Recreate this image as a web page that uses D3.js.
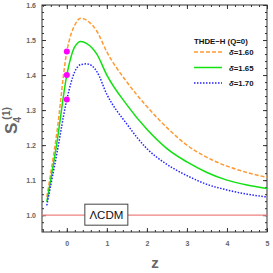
<!DOCTYPE html>
<html lang="en">
<head>
<meta charset="UTF-8">
<title>S4 statefinder</title>
<script src="https://cdn.jsdelivr.net/npm/d3@7"></script>
<style>
  body { margin: 0; padding: 0; background: #fff; }
  svg { display: block; font-family: "Liberation Sans", Arial, sans-serif; }
  .tick text { fill: #666; font-size: 7px; font-weight: bold; }
  .frame line, .frame path { stroke: #333; }
</style>
</head>
<body>
<div id="chart"></div>
<script>
// data
var zs = [-0.5, -0.25, 0, 0.2, 0.35, 0.5, 0.75, 1, 1.5, 2, 2.5, 3, 3.5, 4, 4.5, 5];
var s160 = [1.052, 1.235, 1.467, 1.543, 1.562, 1.556, 1.525, 1.466, 1.38, 1.31, 1.25, 1.20, 1.165, 1.14, 1.122, 1.108];
var s165 = [1.038, 1.205, 1.40, 1.481, 1.496, 1.490, 1.460, 1.400, 1.315, 1.245, 1.19, 1.152, 1.122, 1.10, 1.086, 1.076];
var s170 = [1.028, 1.175, 1.33, 1.410, 1.430, 1.432, 1.410, 1.345, 1.26, 1.19, 1.145, 1.113, 1.088, 1.072, 1.06, 1.052];
var deltas = ['1.60', '1.65', '1.70'];
var xTicks = [0, 1, 2, 3, 4, 5];
var yTicks = [1.0, 1.1, 1.2, 1.3, 1.4, 1.5, 1.6];
var lcdm = 1.0;

var width = 273, height = 273;
var mLeft = 42, mRight = 267, mTop = 5, mBottom = 232;

var svg = d3.select('#chart').append('svg')
  .attr('width', width).attr('height', height);

var x = d3.scaleLinear().domain([-0.62, 5.0]).range([mLeft, mRight]);
var y = d3.scaleLinear().domain([0.952, 1.6]).range([mBottom, mTop]);

// frame ticks, pointing inward
function minor(a, b, step) {
  var out = [];
  for (var v = a; v <= b + 1e-9; v += step) out.push(+v.toFixed(3));
  return out;
}
var g = svg.append('g').attr('class', 'frame');

g.append('g').attr('transform', 'translate(0,' + mBottom + ')')
  .call(d3.axisBottom(x).tickValues(minor(-0.6, 5, 0.2)).tickSize(-2).tickFormat(''));
g.append('g').attr('transform', 'translate(0,' + mBottom + ')')
  .call(d3.axisBottom(x).tickValues(xTicks).tickSize(-4).tickPadding(9).tickFormat(d3.format('d')));
g.append('g').attr('transform', 'translate(0,' + mTop + ')')
  .call(d3.axisTop(x).tickValues(minor(-0.6, 5, 0.2)).tickSize(-2).tickFormat(''));
g.append('g').attr('transform', 'translate(0,' + mTop + ')')
  .call(d3.axisTop(x).tickValues(xTicks).tickSize(-4).tickFormat(''));

g.append('g').attr('transform', 'translate(' + mLeft + ',0)')
  .call(d3.axisLeft(y).tickValues(minor(0.96, 1.6, 0.02)).tickSize(-2).tickFormat(''));
g.append('g').attr('transform', 'translate(' + mLeft + ',0)')
  .call(d3.axisLeft(y).tickValues(yTicks).tickSize(-4).tickPadding(6).tickFormat(d3.format('.1f')));
g.append('g').attr('transform', 'translate(' + mRight + ',0)')
  .call(d3.axisRight(y).tickValues(minor(0.96, 1.6, 0.02)).tickSize(-2).tickFormat(''));
g.append('g').attr('transform', 'translate(' + mRight + ',0)')
  .call(d3.axisRight(y).tickValues(yTicks).tickSize(-4).tickFormat(''));
g.selectAll('.domain').remove();

svg.append('rect')
  .attr('x', mLeft).attr('y', mTop)
  .attr('width', mRight - mLeft).attr('height', mBottom - mTop)
  .attr('fill', 'none').attr('stroke', '#333').attr('stroke-width', 1);

// LCDM line
svg.append('line')
  .attr('x1', mLeft).attr('x2', mRight)
  .attr('y1', y(lcdm)).attr('y2', y(lcdm))
  .attr('stroke', '#ee8080').attr('stroke-width', 1.2);

var series = [
  { vals: s160, color: '#ff9a33', dash: '4,2' },
  { vals: s165, color: '#11e011', dash: null },
  { vals: s170, color: '#2525ff', dash: '1.5,1.5' }
];

var line = d3.line()
  .x(function(d, i) { return x(zs[i]); })
  .y(function(d) { return y(d); })
  .curve(d3.curveMonotoneX);

series.forEach(function(s) {
  svg.append('path')
    .attr('d', line(s.vals))
    .attr('fill', 'none')
    .attr('stroke', s.color)
    .attr('stroke-width', 1.5)
    .attr('stroke-dasharray', s.dash);
});

// points today (z = 0)
svg.selectAll('.dot')
  .data(series)
  .enter().append('circle')
  .attr('class', 'dot')
  .attr('cx', x(0))
  .attr('cy', function(d) { return y(d.vals[zs.indexOf(0)]); })
  .attr('r', 3)
  .attr('fill', '#ff00ff');

// LCDM label box
var bx = x(0.45), by = y(1.0);
svg.append('rect')
  .attr('x', bx).attr('y', by - 11)
  .attr('width', 43).attr('height', 21)
  .attr('fill', '#fff').attr('stroke', '#444').attr('stroke-width', 1);
svg.append('text')
  .attr('x', bx + 21.5).attr('y', by + 4)
  .attr('text-anchor', 'middle')
  .attr('font-size', 11.5)
  .attr('fill', '#111')
  .text('ΛCDM');

// legend
var lg = svg.append('g').attr('transform', 'translate(194,0)');
lg.append('text')
  .attr('x', 0).attr('y', 44)
  .attr('font-size', 7.8).attr('font-weight', 'bold').attr('fill', '#111')
  .text('THDE\u2212H (Q=0)');
series.forEach(function(s, i) {
  var ly = 52 + i * 15.5;
  lg.append('line')
    .attr('x1', 0).attr('x2', 28)
    .attr('y1', ly).attr('y2', ly)
    .attr('stroke', s.color).attr('stroke-width', 1.5)
    .attr('stroke-dasharray', s.dash);
  var t = lg.append('text')
    .attr('x', 35).attr('y', ly + 3)
    .attr('font-size', 7.8).attr('font-weight', 'bold').attr('fill', '#111');
  t.append('tspan').attr('font-style', 'italic').text('δ');
  t.append('tspan').text('=' + deltas[i]);
});

// axis labels
svg.append('text')
  .attr('x', 155).attr('y', 268)
  .attr('text-anchor', 'middle')
  .attr('font-size', 15).attr('font-weight', 'bold').attr('fill', '#666')
  .text('z');

var yl = svg.append('text')
  .attr('transform', 'translate(17,134) rotate(-90)')
  .attr('text-anchor', 'start')
  .attr('font-size', 17).attr('font-weight', 'bold').attr('fill', '#666');
yl.append('tspan').text('S');
yl.append('tspan').attr('font-size', 10.5).attr('dy', 4).text('4');
yl.append('tspan').attr('font-size', 10.5).attr('dx', -3).attr('dy', -11).text('(1)');
</script>
</body>
</html>
